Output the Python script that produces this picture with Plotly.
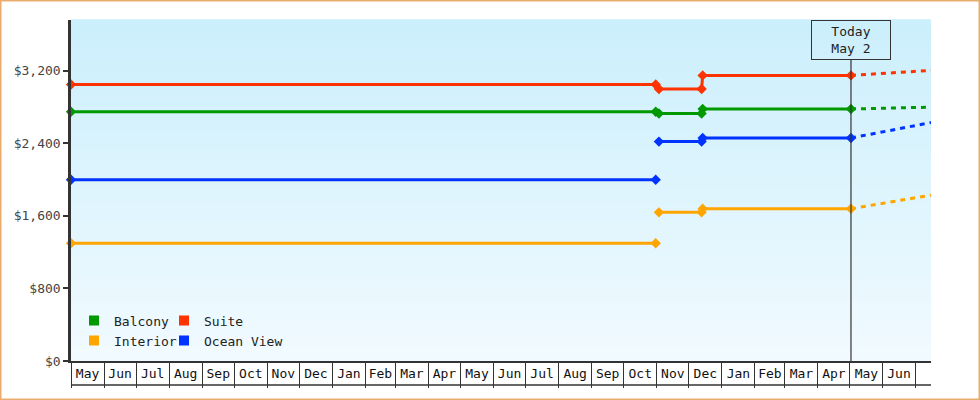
import pandas as pd
import plotly.graph_objects as go

# ---------------- data ----------------
dates = ["2017-05-01", "2018-10-31", "2018-11-03", "2018-12-13", "2018-12-14", "2019-05-02"]
suite = [3049, 3049, 2999, 2999, 3149, 3149]
balcony = [2749, 2749, 2729, 2729, 2779, 2779]
ocean_dates = ["2017-05-01", "2018-10-31", "2018-11-02", "2018-11-03", "2018-12-13", "2018-12-14", "2019-05-02"]
ocean_view = [1999, 1999, None, 2419, 2419, 2459, 2459]
interior = [1299, 1299, None, 1639, 1639, 1679, 1679]

proj_dates = ["2019-05-02", "2019-07-16"]
suite_proj = [3149, 3204]
balcony_proj = [2779, 2799]
ocean_proj = [2459, 2629]
interior_proj = [1679, 1829]

today = "2019-05-02"
today_label = "Today<br>May 2"
x_range = ["2017-05-01", "2019-07-16"]
y_range = [0, 3760]
month_starts = pd.date_range("2017-05-01", "2019-07-01", freq="MS")
month_labels = [d.strftime("%b") for d in month_starts[:-1]]

FONT = "DejaVu Sans Mono"
colors = {"Balcony": "#009900", "Suite": "#ff3300", "Interior": "#ffa500", "Ocean View": "#0033ff"}

series = [
    ("Interior", ocean_dates, interior, interior_proj),
    ("Ocean View", ocean_dates, ocean_view, ocean_proj),
    ("Balcony", dates, balcony, balcony_proj),
    ("Suite", dates, suite, suite_proj),
]

fig = go.Figure()
for name, xs, ys, proj in series:
    c = colors[name]
    fig.add_trace(go.Scatter(
        x=xs, y=ys, mode="lines+markers", name=name, legendgroup=name,
        showlegend=False, connectgaps=False, cliponaxis=False,
        line=dict(color=c, width=3),
        marker=dict(symbol="diamond", size=8, color=c),
        hovertemplate="%{x|%b %d, %Y}: $%{y:,}<extra>" + name + "</extra>",
    ))
    fig.add_trace(go.Scatter(
        x=proj_dates, y=proj, mode="lines", name=name, legendgroup=name,
        showlegend=False, line=dict(color=c, width=3, dash="5px,5px"),
        hoverinfo="skip",
    ))

L, R, T, B = 71, 49, 20, 39
W, H = 980, 400
pw, ph = W - L - R, H - T - B

def px_to_paper_x(px):
    return (px - L) / pw

def px_to_paper_y(py):
    return (H - B - py) / ph

# legend entries (square swatches), 2 x 2 grid, one legend per entry
legend_items = [("Balcony", 74, 320.5), ("Suite", 164, 320.5),
                ("Interior", 74, 340.5), ("Ocean View", 164, 340.5)]
legend_layout = {}
for i, (name, lx, ly) in enumerate(legend_items):
    key = "legend" if i == 0 else f"legend{i + 1}"
    fig.add_trace(go.Scatter(
        x=[None], y=[None], mode="markers", name=name, legendgroup=name,
        legend=key, showlegend=True,
        marker=dict(symbol="square", size=10, color=colors[name]),
    ))
    legend_layout[key] = dict(
        orientation="h", x=px_to_paper_x(lx), xanchor="left",
        y=px_to_paper_y(ly), yanchor="middle", bgcolor="rgba(0,0,0,0)",
        font=dict(family=FONT, size=13, color="#222222"))

# month label positions: middle of each month cell
mid_months = [a + (b - a) / 2 for a, b in zip(month_starts[:-1], month_starts[1:])]

# background gradient bands
top = (203, 239, 252)
bot = (241, 250, 255)
n = 68
shapes = []
for i in range(n):
    t = i / (n - 1)
    r, g, b = [round(bot[k] + (top[k] - bot[k]) * t) for k in range(3)]
    shapes.append(dict(type="rect", xref="paper", yref="paper", x0=0, x1=1,
                       y0=i / n, y1=(i + 1) / n + 0.002, layer="below",
                       line=dict(width=0), fillcolor=f"rgb({r},{g},{b})"))

# bottom line of month cells
shapes.append(dict(type="line", xref="paper", yref="paper", x0=0, x1=1,
                   y0=px_to_paper_y(385), y1=px_to_paper_y(385),
                   line=dict(color="#333333", width=1.5)))
# today line
shapes.append(dict(type="line", xref="x", yref="paper", x0=today, x1=today,
                   y0=0, y1=px_to_paper_y(60), line=dict(color="#333333", width=1.2)))
# outer orange border
shapes.append(dict(type="rect", xref="paper", yref="paper",
                   x0=px_to_paper_x(0.75), x1=px_to_paper_x(979.25),
                   y0=px_to_paper_y(399.25), y1=px_to_paper_y(0.75),
                   line=dict(color="#e8ad6c", width=1.5)))

fig.update_layout(
    width=W, height=H,
    margin=dict(l=L, r=R, t=T, b=B),
    paper_bgcolor="white", plot_bgcolor="rgba(0,0,0,0)",
    font=dict(family=FONT, size=13, color="#222222"),
    shapes=shapes,
    annotations=[dict(
        x=today, xref="x", y=1, yref="paper", yanchor="top", xanchor="center",
        text=today_label, showarrow=False, align="center",
        font=dict(family=FONT, size=13, color="#222222"),
        bordercolor="#333333", borderwidth=1, borderpad=2, bgcolor="rgba(0,0,0,0)",
        width=74, height=34,
    )],
    showlegend=True,
    **legend_layout,
)

fig.update_xaxes(
    type="date", range=x_range,
    tickmode="array", tickvals=mid_months, ticktext=month_labels,
    ticks="", ticklabelstandoff=0,
    minor=dict(ticks="outside", ticklen=25, tickwidth=1.2, tickcolor="#333333",
               dtick="M1", tick0="2017-05-01", showgrid=False),
    showline=True, linecolor="#333333", linewidth=1.5,
    showgrid=False, zeroline=False,
    tickfont=dict(family=FONT, size=13, color="#111111"),
)
fig.update_yaxes(
    range=y_range, dtick=800, tick0=0, tickprefix="$", tickformat=",",
    ticks="outside", ticklen=5, tickwidth=2, tickcolor="#333333",
    showline=True, linecolor="#333333", linewidth=2.5,
    showgrid=False, zeroline=False,
    tickfont=dict(family=FONT, size=13, color="#444444"),
)

fig.write_html("out.html", config={"displayModeBar": False},
               post_script="document.body.style.margin='0';")
